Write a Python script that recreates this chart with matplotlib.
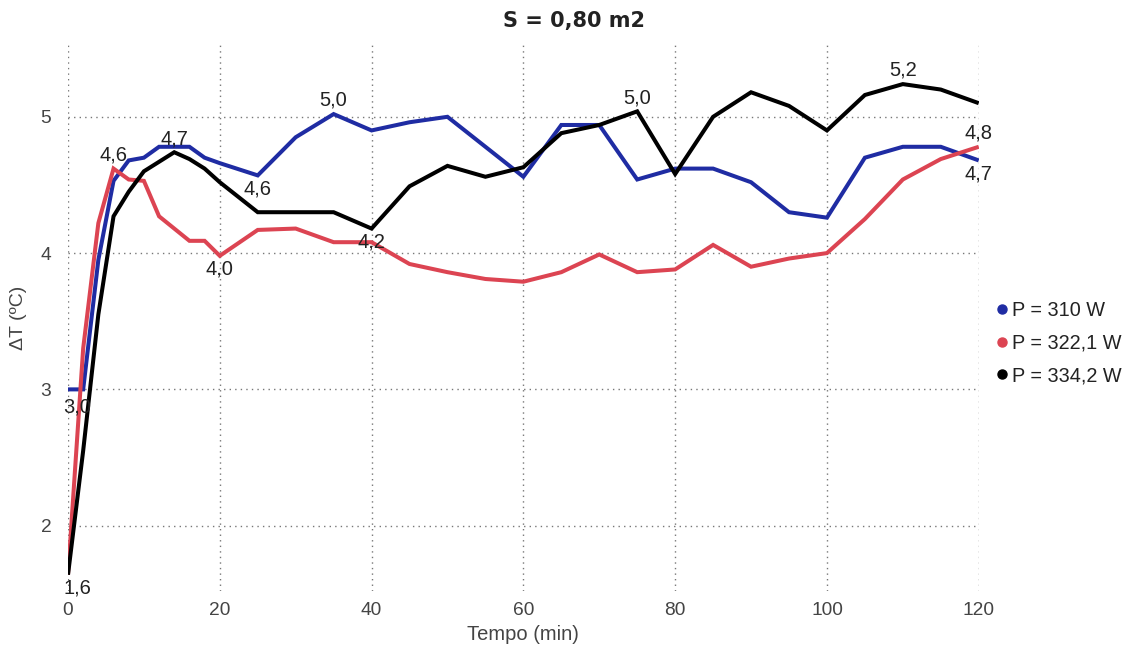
import matplotlib
matplotlib.use("Agg")
import matplotlib.pyplot as plt
from matplotlib.lines import Line2D

plt.rcParams["font.family"] = ["Liberation Sans", "DejaVu Sans"]

# time (min)
tempo = [0, 2, 4, 6, 8, 10, 12, 14, 16, 18, 20, 25, 30, 35, 40, 45, 50, 55,
         60, 65, 70, 75, 80, 85, 90, 95, 100, 105, 110, 115, 120]

dt_310 = [3.0, 3.0, 3.95, 4.53, 4.68, 4.70, 4.78, 4.78, 4.78, 4.70, 4.66, 4.57,
          4.85, 5.02, 4.90, 4.96, 5.0, 4.78, 4.56, 4.94, 4.94, 4.54, 4.62, 4.62,
          4.52, 4.30, 4.26, 4.70, 4.78, 4.78, 4.68]
dt_322 = [1.64, 3.30, 4.22, 4.62, 4.54, 4.53, 4.27, 4.18, 4.09, 4.09, 3.98, 4.17,
          4.18, 4.08, 4.08, 3.92, 3.86, 3.81, 3.79, 3.86, 3.99, 3.86, 3.88, 4.06,
          3.90, 3.96, 4.0, 4.25, 4.54, 4.69, 4.78]
dt_334 = [1.64, 2.55, 3.55, 4.27, 4.45, 4.60, 4.67, 4.74, 4.69, 4.62, 4.52, 4.30,
          4.30, 4.30, 4.18, 4.49, 4.64, 4.56, 4.63, 4.88, 4.94, 5.04, 4.58, 5.0,
          5.18, 5.08, 4.90, 5.16, 5.24, 5.20, 5.10]

series_labels = ["P = 310 W", "P = 322,1 W", "P = 334,2 W"]
colors = ["#1f2ca3", "#dc4452", "#000000"]

# (series index, point index, placement) for the value labels
value_labels = [
    (2, 0, "below"), (0, 0, "below"), (1, 3, "above"), (2, 7, "above"),
    (1, 10, "below"), (0, 11, "below"), (0, 13, "above"), (2, 14, "below"),
    (2, 21, "above"), (2, 28, "above"), (1, 30, "above"), (0, 30, "below"),
]

fig = plt.figure(figsize=(11.37, 6.46), dpi=100)
ax = fig.add_axes([0.0598, 0.085, 0.801, 0.846])

all_series = [dt_310, dt_322, dt_334]
for ys, c, lab in zip(all_series, colors, series_labels):
    ax.plot(tempo, ys, color=c, lw=2.9, label=lab, solid_joinstyle="miter",
            solid_capstyle="butt", zorder=3)

for si, pi, pos in value_labels:
    v = all_series[si][pi]
    txt = f"{v:.1f}".replace(".", ",")
    dy = 3 if pos == "above" else -3
    # labels on the left edge are pushed inside the plot area
    dx = 6.5 if tempo[pi] == 0 else 0
    if tempo[pi] == 0 and si == 0:
        dy = -6
    ax.annotate(txt, (tempo[pi], v), xytext=(dx, dy), textcoords="offset points",
                ha="center", va="bottom" if pos == "above" else "top",
                fontsize=14.5, color="#222222", zorder=4)

ax.set_xlim(0, 120)
ax.set_ylim(1.52, 5.53)
ax.set_xticks(range(0, 121, 20))
ax.set_yticks([2, 3, 4, 5])
ax.grid(True, linestyle=(0, (1, 3)), color="#777777", lw=1.0)
for s in ax.spines.values():
    s.set_visible(False)
ax.tick_params(axis="x", length=0, labelsize=13.8, labelcolor="#444444", pad=8)
ax.tick_params(axis="y", length=0, labelsize=13.8, labelcolor="#444444", pad=12)
ax.set_xlabel("Tempo (min)", fontsize=14.5, color="#444444", labelpad=4)
ax.set_ylabel("ΔT (ºC)", fontsize=14, color="#444444", labelpad=10)
fig.text(0.505, 0.968, "S = 0,80 m2", fontsize=15, fontweight="bold",
         color="#222222", family="DejaVu Sans", ha="center", va="center")

handles = [Line2D([], [], marker="o", ls="none", color=c, markersize=6.5) for c in colors]
fig.legend(handles, series_labels, loc="center left", bbox_to_anchor=(0.857, 0.469),
           frameon=False, fontsize=14.3, handletextpad=0.0, labelspacing=0.7,
           handlelength=1.0, labelcolor="#222222")

fig.savefig("out.png", dpi=100, facecolor="white")
